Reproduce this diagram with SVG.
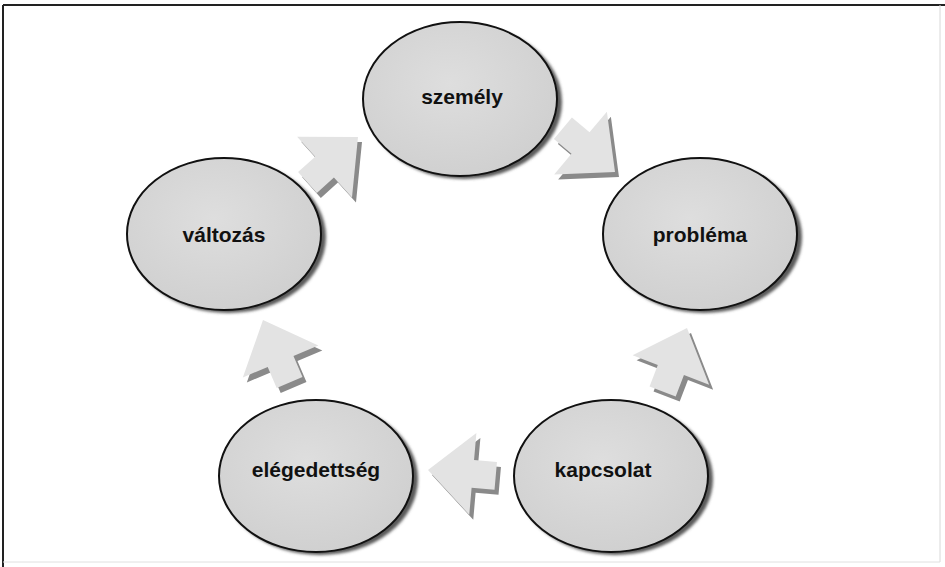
<svg xmlns="http://www.w3.org/2000/svg" width="945" height="567" viewBox="0 0 945 567">
<style>
.node-shadow{fill:#5a5a5a;filter:url(#blur)}
.node{fill:url(#gfill);stroke:#111;stroke-width:2}
.lbl{font-family:"Liberation Sans",Arial,sans-serif;font-weight:bold;font-size:21px;fill:#111;text-anchor:middle}
.arr-shadow{fill:#8a8a8a}
.arr{fill:#e3e3e3}
</style>
<defs>
<filter id="blur" x="-10%" y="-10%" width="120%" height="120%"><feGaussianBlur stdDeviation="1.5"/></filter>
<radialGradient id="gfill" cx="0.45" cy="0.4" r="0.65">
<stop offset="0" stop-color="#dedede"/>
<stop offset="1" stop-color="#cfcfcf"/>
</radialGradient>
<path id="arrowShape" d="M0,0 L-45,-41 L-45,-14 L-68,-14 L-68,14 L-45,14 L-45,41 Z"/>
</defs>
<rect width="945" height="567" fill="#fff"/>
<g id="frame" fill="none">
<line x1="3" y1="5" x2="945" y2="5" stroke="#222" stroke-width="2"/>
<line x1="3" y1="5" x2="3" y2="567" stroke="#222" stroke-width="2"/>
<line x1="940" y1="5" x2="940" y2="562" stroke="#d8d8d8" stroke-width="1"/>
<line x1="3" y1="562" x2="940" y2="562" stroke="#e0e0e0" stroke-width="1"/>
</g>
<g id="connectors">
<g transform="translate(358,137) rotate(-42)"><use href="#arrowShape" class="arr-shadow" transform="rotate(42) translate(4,5) rotate(-42)"/><use href="#arrowShape" class="arr"/></g>
<g transform="translate(615,172) rotate(40)"><use href="#arrowShape" class="arr-shadow" transform="rotate(-40) translate(4,5) rotate(40)"/><use href="#arrowShape" class="arr"/></g>
<g transform="translate(687,328) rotate(-69)"><use href="#arrowShape" class="arr-shadow" transform="rotate(69) translate(4,5) rotate(-69)"/><use href="#arrowShape" class="arr"/></g>
<g transform="translate(428,470) rotate(185)"><use href="#arrowShape" class="arr-shadow" transform="rotate(-185) translate(4,5) rotate(185)"/><use href="#arrowShape" class="arr"/></g>
<g transform="translate(263,320) rotate(-113)"><use href="#arrowShape" class="arr-shadow" transform="rotate(113) translate(4,5) rotate(-113)"/><use href="#arrowShape" class="arr"/></g>
</g>
<g id="szemely">
<ellipse class="node-shadow" cx="464" cy="102" rx="98" ry="77"/>
<ellipse class="node" cx="460" cy="99" rx="97" ry="77"/>
<text class="lbl" x="462" y="104">személy</text>
</g>
<g id="problema">
<ellipse class="node-shadow" cx="704" cy="237" rx="98" ry="76"/>
<ellipse class="node" cx="700" cy="234" rx="97" ry="76"/>
<text class="lbl" x="700" y="242">probléma</text>
</g>
<g id="kapcsolat">
<ellipse class="node-shadow" cx="615" cy="479" rx="98" ry="76"/>
<ellipse class="node" cx="611" cy="476" rx="97" ry="76"/>
<text class="lbl" x="603" y="477">kapcsolat</text>
</g>
<g id="elegedettseg">
<ellipse class="node-shadow" cx="320" cy="479" rx="98" ry="76"/>
<ellipse class="node" cx="316" cy="476" rx="97" ry="76"/>
<text class="lbl" x="316" y="477">elégedettség</text>
</g>
<g id="valtozas">
<ellipse class="node-shadow" cx="228" cy="237" rx="98" ry="76"/>
<ellipse class="node" cx="224" cy="234" rx="97" ry="76"/>
<text class="lbl" x="224" y="242">változás</text>
</g>
</svg>
